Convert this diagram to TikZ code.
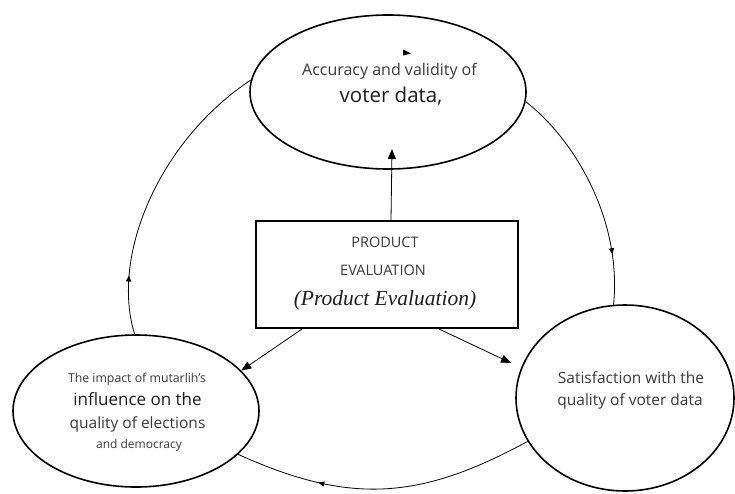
\documentclass[tikz,border=0pt]{standalone}
\usepackage{fontspec}
\setsansfont{Open Sans}
\newfontfamily\serifit{Liberation Serif}
\usetikzlibrary{shapes.geometric,arrows.meta,decorations.markings,calc}
\definecolor{txtgray}{HTML}{3A3A3A}
\definecolor{txtdark}{HTML}{1E1E1E}
\newcommand{\fs}[1]{\fontsize{#1}{#1}\selectfont}
\begin{document}
\begin{tikzpicture}[x=1pt,y=-1pt,
  oval/.style={ellipse,draw,line width=1.6pt,inner sep=0pt},
  conn/.style={line width=0.8pt},
  tipped/.style={-{Triangle[length=10pt,width=8pt]}},
  midarrow/.style={postaction={decorate},decoration={markings,mark=at position #1 with {\arrow{Triangle[length=6pt,width=5pt]}}}},
  lbl/.style={anchor=base,inner sep=0pt,text=txtgray,font=\sffamily}
]
\fill[white] (0,0) rectangle (735,493);
\useasboundingbox (0,0) rectangle (735,493);

% ellipses and box
\node[oval,minimum width=276pt,minimum height=154pt] (top) at (388,92) {};
\node[oval,minimum width=246pt,minimum height=152pt] (left) at (136,411) {};
\node[oval,minimum width=218pt,minimum height=186pt] (right) at (625,398) {};
\node[draw,line width=2pt,minimum width=262pt,minimum height=107pt,inner sep=0pt] (box) at (387,274.5) {};

% texts
\node[lbl,font=\sffamily\fs{16}] (t1) at (389.5,75) {Accuracy and validity of};
\node[lbl,font=\sffamily\fs{20.5},text=txtdark] (t2) at (391,102) {voter data,};
\node[lbl,font=\sffamily\fs{12.3}] (l1) at (137,382) {The impact of mutarlih's};
\node[lbl,font=\sffamily\fs{17},text=txtdark] (l2) at (137.5,405) {influence on the};
\node[lbl,font=\sffamily\fs{15.5}] (l3) at (137.5,428) {quality of elections};
\node[lbl,font=\sffamily\fs{12}] (l4) at (139,448) {and democracy};
\node[lbl,font=\sffamily\fs{15.5}] (r1) at (631,383) {Satisfaction with the};
\node[lbl,font=\sffamily\fs{15.5}] (r2) at (630,405) {quality of voter data};
\node[lbl,font=\sffamily\fs{14.5}] (b1) at (385,247) {PRODUCT};
\node[lbl,font=\sffamily\fs{14.5}] (b2) at (383,275) {EVALUATION};
\node[lbl,font=\serifit\itshape\fs{21.5},text=txtdark] (b3) at (385,305) {(Product Evaluation)};

% small mark in top ellipse
\fill (403,49.5) -- (411,53.5) -- (403,55.5) -- cycle;

% straight arrows from the box
\coordinate (toptip) at (392,149);
\coordinate (righttip) at (511,363);
\draw[conn,tipped] ([xshift=136pt]box.north west) -- (toptip);
\draw[conn,tipped] ([xshift=47pt]box.south west) -- (left.21);
\draw[conn,tipped] ([xshift=184pt]box.south west) -- (righttip);

% cycle arcs
\draw[conn,midarrow=0.78] (top.356) .. controls (575,140) and (622,220) .. (right.97);
\draw[conn,midarrow=0.72] (right.204) .. controls (420,500) and (350,505) .. (left.337);
\draw[conn,midarrow=0.2] (left.91) .. controls (110,255) and (160,140) .. (top.175);
\end{tikzpicture}
\end{document}
